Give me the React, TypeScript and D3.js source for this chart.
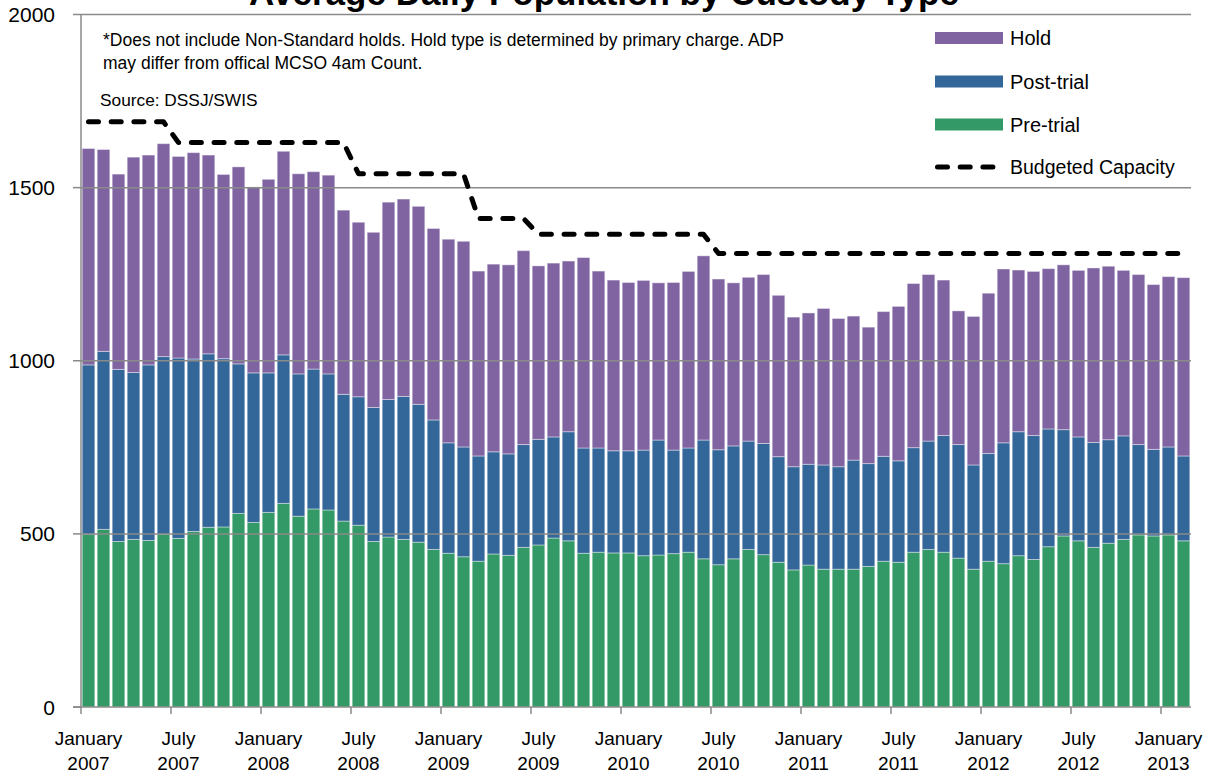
import React from "react";
import * as d3 from "d3";

const months: string[] = [
  "2007-01","2007-02","2007-03","2007-04","2007-05","2007-06","2007-07","2007-08","2007-09","2007-10","2007-11","2007-12",
  "2008-01","2008-02","2008-03","2008-04","2008-05","2008-06","2008-07","2008-08","2008-09","2008-10","2008-11","2008-12",
  "2009-01","2009-02","2009-03","2009-04","2009-05","2009-06","2009-07","2009-08","2009-09","2009-10","2009-11","2009-12",
  "2010-01","2010-02","2010-03","2010-04","2010-05","2010-06","2010-07","2010-08","2010-09","2010-10","2010-11","2010-12",
  "2011-01","2011-02","2011-03","2011-04","2011-05","2011-06","2011-07","2011-08","2011-09","2011-10","2011-11","2011-12",
  "2012-01","2012-02","2012-03","2012-04","2012-05","2012-06","2012-07","2012-08","2012-09","2012-10","2012-11","2012-12",
  "2013-01","2013-02",
];

const preTrial: number[] = [
  499, 513, 478, 484, 481, 499, 487, 507, 519, 520, 559, 533,
  562, 588, 551, 572, 569, 537, 525, 478, 491, 484, 476, 455,
  444, 434, 421, 442, 438, 461, 468, 488, 480, 444, 447, 445,
  445, 437, 439, 443, 447, 428, 411, 428, 455, 440, 418, 396,
  410, 398, 398, 398, 406, 421, 418, 447, 455, 447, 430, 398,
  421, 414, 437, 426, 463, 494, 480, 461, 473, 484, 497, 494,
  497, 480,
];

const postTrial: number[] = [
  489, 514, 497, 482, 507, 513, 521, 498, 501, 486, 432, 432,
  403, 429, 411, 404, 393, 366, 371, 387, 397, 413, 398, 374,
  319, 317, 304, 295, 293, 297, 305, 292, 315, 304, 301, 295,
  295, 305, 332, 299, 301, 343, 332, 326, 313, 321, 305, 298,
  291, 301, 296, 315, 297, 303, 293, 302, 313, 337, 328, 301,
  311, 349, 358, 358, 340, 307, 300, 303, 299, 299, 261, 250,
  254, 245,
];

const hold: number[] = [
  625, 583, 564, 622, 606, 615, 582, 596, 574, 532, 569, 537,
  559, 588, 578, 570, 574, 532, 504, 506, 570, 570, 572, 553,
  588, 594, 534, 542, 546, 560, 501, 502, 493, 550, 511, 493,
  486, 490, 454, 484, 510, 532, 493, 471, 473, 488, 466, 432,
  437, 452, 428, 416, 394, 418, 446, 474, 481, 449, 386, 429,
  463, 502, 467, 474, 463, 476, 481, 504, 501, 478, 491, 476,
  492, 515,
];

const budgetedCapacity: number[] = [
  1690, 1690, 1690, 1690, 1690, 1690, 1630, 1630, 1630, 1630, 1630, 1630,
  1630, 1630, 1630, 1630, 1630, 1630, 1540, 1540, 1540, 1540, 1540, 1540,
  1540, 1540, 1411, 1411, 1411, 1411, 1365, 1365, 1365, 1365, 1365, 1365,
  1365, 1365, 1365, 1365, 1365, 1365, 1310, 1310, 1310, 1310, 1310, 1310,
  1310, 1310, 1310, 1310, 1310, 1310, 1310, 1310, 1310, 1310, 1310, 1310,
  1310, 1310, 1310, 1310, 1310, 1310, 1310, 1310, 1310, 1310, 1310, 1310,
  1310, 1310,
];

const tickMonths: string[] = [
  "2007-01","2007-07","2008-01","2008-07","2009-01","2009-07","2010-01",
  "2010-07","2011-01","2011-07","2012-01","2012-07","2013-01",
];
const tickLine1: string[] = [
  "January","July","January","July","January","July","January",
  "July","January","July","January","July","January",
];
const tickLine2: string[] = [
  "2007","2007","2008","2008","2009","2009","2010",
  "2010","2011","2011","2012","2012","2013",
];
const yTicks: number[] = [0, 500, 1000, 1500, 2000];

const seriesKeys = ["Pre-trial", "Post-trial", "Hold"];
const colors: Record<string, string> = {
  "Pre-trial": "#339966",
  "Post-trial": "#336699",
  "Hold": "#8064A2",
};

const FONT = "'Liberation Sans', Arial, Helvetica, sans-serif";

export default function App() {
  const width = 1210;
  const height = 778;
  const left = 81;
  const right = 1191;
  const top = 14.5;
  const bottom = 707;

  const x = d3
    .scaleBand<string>()
    .domain(months)
    .range([left, right])
    .paddingInner(0.16)
    .paddingOuter(0.08);
  const step = x.step();
  const y = d3.scaleLinear().domain([0, 2000]).range([bottom, top]);

  const table = months.map((m, i) => ({
    month: m,
    "Pre-trial": preTrial[i],
    "Post-trial": postTrial[i],
    "Hold": hold[i],
  }));
  const stacked = d3.stack<any>().keys(seriesKeys)(table);

  const line = d3
    .line<number>()
    .x((_, i) => (x(months[i]) as number) + x.bandwidth() / 2)
    .y((v) => y(v));

  const gridColor = "#8a8a8a";

  const legend = [
    { key: "Hold", y: 38 },
    { key: "Post-trial", y: 81.5 },
    { key: "Pre-trial", y: 124.5 },
  ];

  return (
    <svg
      width={width}
      height={height}
      style={{ position: "absolute", left: 0, top: 0, display: "block", background: "#fff" }}
      fontFamily={FONT}
    >
      {/* bars */}
      {stacked.map((s) => (
        <g key={s.key} fill={colors[s.key]}>
          {s.map((d, i) => (
            <rect
              key={i}
              x={x(months[i])}
              width={x.bandwidth()}
              y={y(d[1])}
              height={y(d[0]) - y(d[1])}
              stroke="#ffffff"
              strokeOpacity={0.4}
              strokeWidth={1}
            />
          ))}
        </g>
      ))}

      {/* gridlines and y ticks */}
      {yTicks.map((t) => (
        <g key={t}>
          {t > 0 && (
            <line x1={left} x2={right} y1={y(t)} y2={y(t)} stroke={gridColor} strokeWidth={1.5} />
          )}
          <line x1={left - 8} x2={left} y1={y(t)} y2={y(t)} stroke={gridColor} strokeWidth={1.5} />
          <text
            x={55}
            y={y(t)}
            dy="0.36em"
            textAnchor="end"
            fontSize={21}
            fill="#000"
          >
            {t}
          </text>
        </g>
      ))}

      {/* axes */}
      <line x1={left} x2={left} y1={top} y2={bottom} stroke={gridColor} strokeWidth={1.5} />
      <line x1={left - 8} x2={right} y1={bottom} y2={bottom} stroke={gridColor} strokeWidth={1.5} />

      {/* x ticks */}
      {tickMonths.map((m, k) => {
        const x0 = (x(m) as number) - (step - x.bandwidth()) / 2;
        const xc = (x(m) as number) + x.bandwidth() / 2;
        return (
          <g key={m}>
            <line x1={x0} x2={x0} y1={bottom} y2={bottom + 7} stroke={gridColor} strokeWidth={1.5} />
            <text x={xc} y={745} textAnchor="middle" fontSize={19} fill="#000">
              {tickLine1[k]}
            </text>
            <text x={xc} y={770} textAnchor="middle" fontSize={19} fill="#000">
              {tickLine2[k]}
            </text>
          </g>
        );
      })}

      {/* budgeted capacity */}
      <path
        d={line(budgetedCapacity) as string}
        fill="none"
        stroke="#000"
        strokeWidth={5}
        strokeDasharray="10 12.7"
        strokeLinecap="round"
        strokeLinejoin="round"
      />

      {/* title */}
      <text x={604} y={5} textAnchor="middle" fontSize={35} fontWeight="bold" fill="#000">
        Average Daily Population by Custody Type
      </text>

      {/* notes */}
      <text x={103} y={46} fontSize={17.5} fill="#000">
        *Does not include Non-Standard holds. Hold type is determined by primary charge. ADP
      </text>
      <text x={103} y={69} fontSize={17.5} fill="#000">
        may differ from offical MCSO 4am Count.
      </text>
      <text x={100} y={106} fontSize={17.3} fill="#000">
        Source: DSSJ/SWIS
      </text>

      {/* legend */}
      {legend.map((l) => (
        <g key={l.key}>
          <rect x={935} y={l.y - 6} width={68} height={12} fill={colors[l.key]} />
          <text x={1010} y={l.y} dy="0.36em" fontSize={20} fill="#000">
            {l.key}
          </text>
        </g>
      ))}
      <line
        x1={937.5}
        x2={995}
        y1={167}
        y2={167}
        stroke="#000"
        strokeWidth={5}
        strokeDasharray="10 12.7"
        strokeLinecap="round"
      />
      <text x={1010} y={167} dy="0.36em" fontSize={19.5} fill="#000">
        Budgeted Capacity
      </text>
    </svg>
  );
}
